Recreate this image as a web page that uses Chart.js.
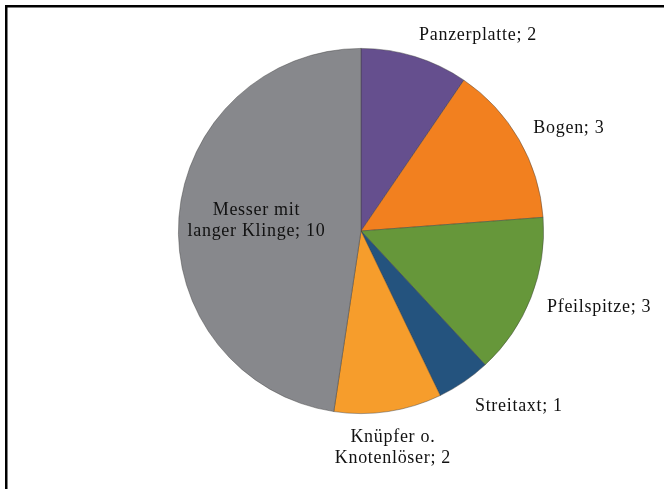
<!DOCTYPE html>
<html>
<head>
<meta charset="utf-8">
<script src="https://cdn.jsdelivr.net/npm/chart.js@4/dist/chart.umd.min.js"></script>
<style>
  html, body { margin: 0; padding: 0; background: #ffffff; }
  #wrap { position: relative; width: 664px; height: 489px; }
</style>
</head>
<body>
<div id="wrap"><canvas id="c" width="664" height="489"></canvas></div>
<script>
// Fundkategorien und Anzahl
const categories = [
  'Panzerplatte',
  'Bogen',
  'Pfeilspitze',
  'Streitaxt',
  ['Knüpfer o.', 'Knotenlöser'],
  ['Messer mit', 'langer Klinge']
];
const counts = [2, 3, 3, 1, 2, 10];

const sliceColors = ['#654f8e', '#f2801f', '#66973a', '#24537e', '#f69d2c', '#87888c'];

// Label placement: angular shift from slice middle (degrees) and distance (× radius)
const labelLayout = [
  { shift: 13.7, dist: 1.25 },
  { shift: 3.7,  dist: 1.27 },
  { shift: -3.6, dist: 1.37 },
  { shift: -7.8, dist: 1.29 },
  { shift: 0.2,  dist: 1.20 },
  { shift: 1.1,  dist: 0.575 }
];

function shade(hex, f) {
  const n = parseInt(hex.slice(1), 16);
  let r = (n >> 16) & 255, g = (n >> 8) & 255, b = n & 255;
  const m = v => Math.max(0, Math.min(255, Math.round(f >= 0 ? v + (255 - v) * f : v * (1 + f))));
  return `rgb(${m(r)},${m(g)},${m(b)})`;
}

function sliceFill(ctx) {
  const base = sliceColors[ctx.dataIndex];
  const chart = ctx.chart;
  const meta = chart.getDatasetMeta(0);
  const arc = meta.data[ctx.dataIndex];
  if (!arc || !arc.outerRadius) return base;
  const g = chart.ctx.createRadialGradient(arc.x, arc.y, 0, arc.x, arc.y, arc.outerRadius);
  g.addColorStop(0, shade(base, 0.05));
  g.addColorStop(0.82, base);
  g.addColorStop(1, shade(base, -0.28));
  return g;
}

// Black frame on top and left
const framePlugin = {
  id: 'frame',
  beforeDraw(chart) {
    const c = chart.ctx;
    c.save();
    c.fillStyle = '#000';
    c.fillRect(5, 5, chart.width - 5, 2.5);
    c.fillRect(5, 5, 2.5, chart.height - 5);
    c.restore();
  }
};

// Category labels "Name; value"
const labelPlugin = {
  id: 'sliceLabels',
  afterDatasetsDraw(chart) {
    const c = chart.ctx;
    const meta = chart.getDatasetMeta(0);
    c.save();
    c.font = '18px "Liberation Serif", "Times New Roman", serif';
    c.letterSpacing = '0.7px';
    c.fillStyle = '#111111';
    c.textAlign = 'center';
    c.textBaseline = 'middle';
    meta.data.forEach((arc, i) => {
      const lay = labelLayout[i];
      const a = (arc.startAngle + arc.endAngle) / 2 + lay.shift * Math.PI / 180;
      const r = arc.outerRadius * lay.dist;
      const x = arc.x + Math.cos(a) * r;
      const y = arc.y + Math.sin(a) * r;
      const name = categories[i];
      const lines = Array.isArray(name) ? name.slice() : [name];
      lines[lines.length - 1] = lines[lines.length - 1] + '; ' + counts[i];
      const lh = 21;
      const y0 = y - (lines.length - 1) * lh / 2;
      lines.forEach((t, k) => c.fillText(t, x, y0 + k * lh));
    });
    c.restore();
  }
};

new Chart(document.getElementById('c'), {
  type: 'pie',
  data: {
    labels: categories,
    datasets: [{
      data: counts,
      backgroundColor: sliceFill,
      borderColor: 'rgba(60,60,60,0.55)',
      borderWidth: 0.8
    }]
  },
  options: {
    responsive: false,
    animation: false,
    layout: { padding: { left: 178, right: 120, top: 48, bottom: 75 } },
    plugins: {
      legend: { display: false },
      tooltip: { enabled: false }
    }
  },
  plugins: [framePlugin, labelPlugin]
});
</script>
</body>
</html>
